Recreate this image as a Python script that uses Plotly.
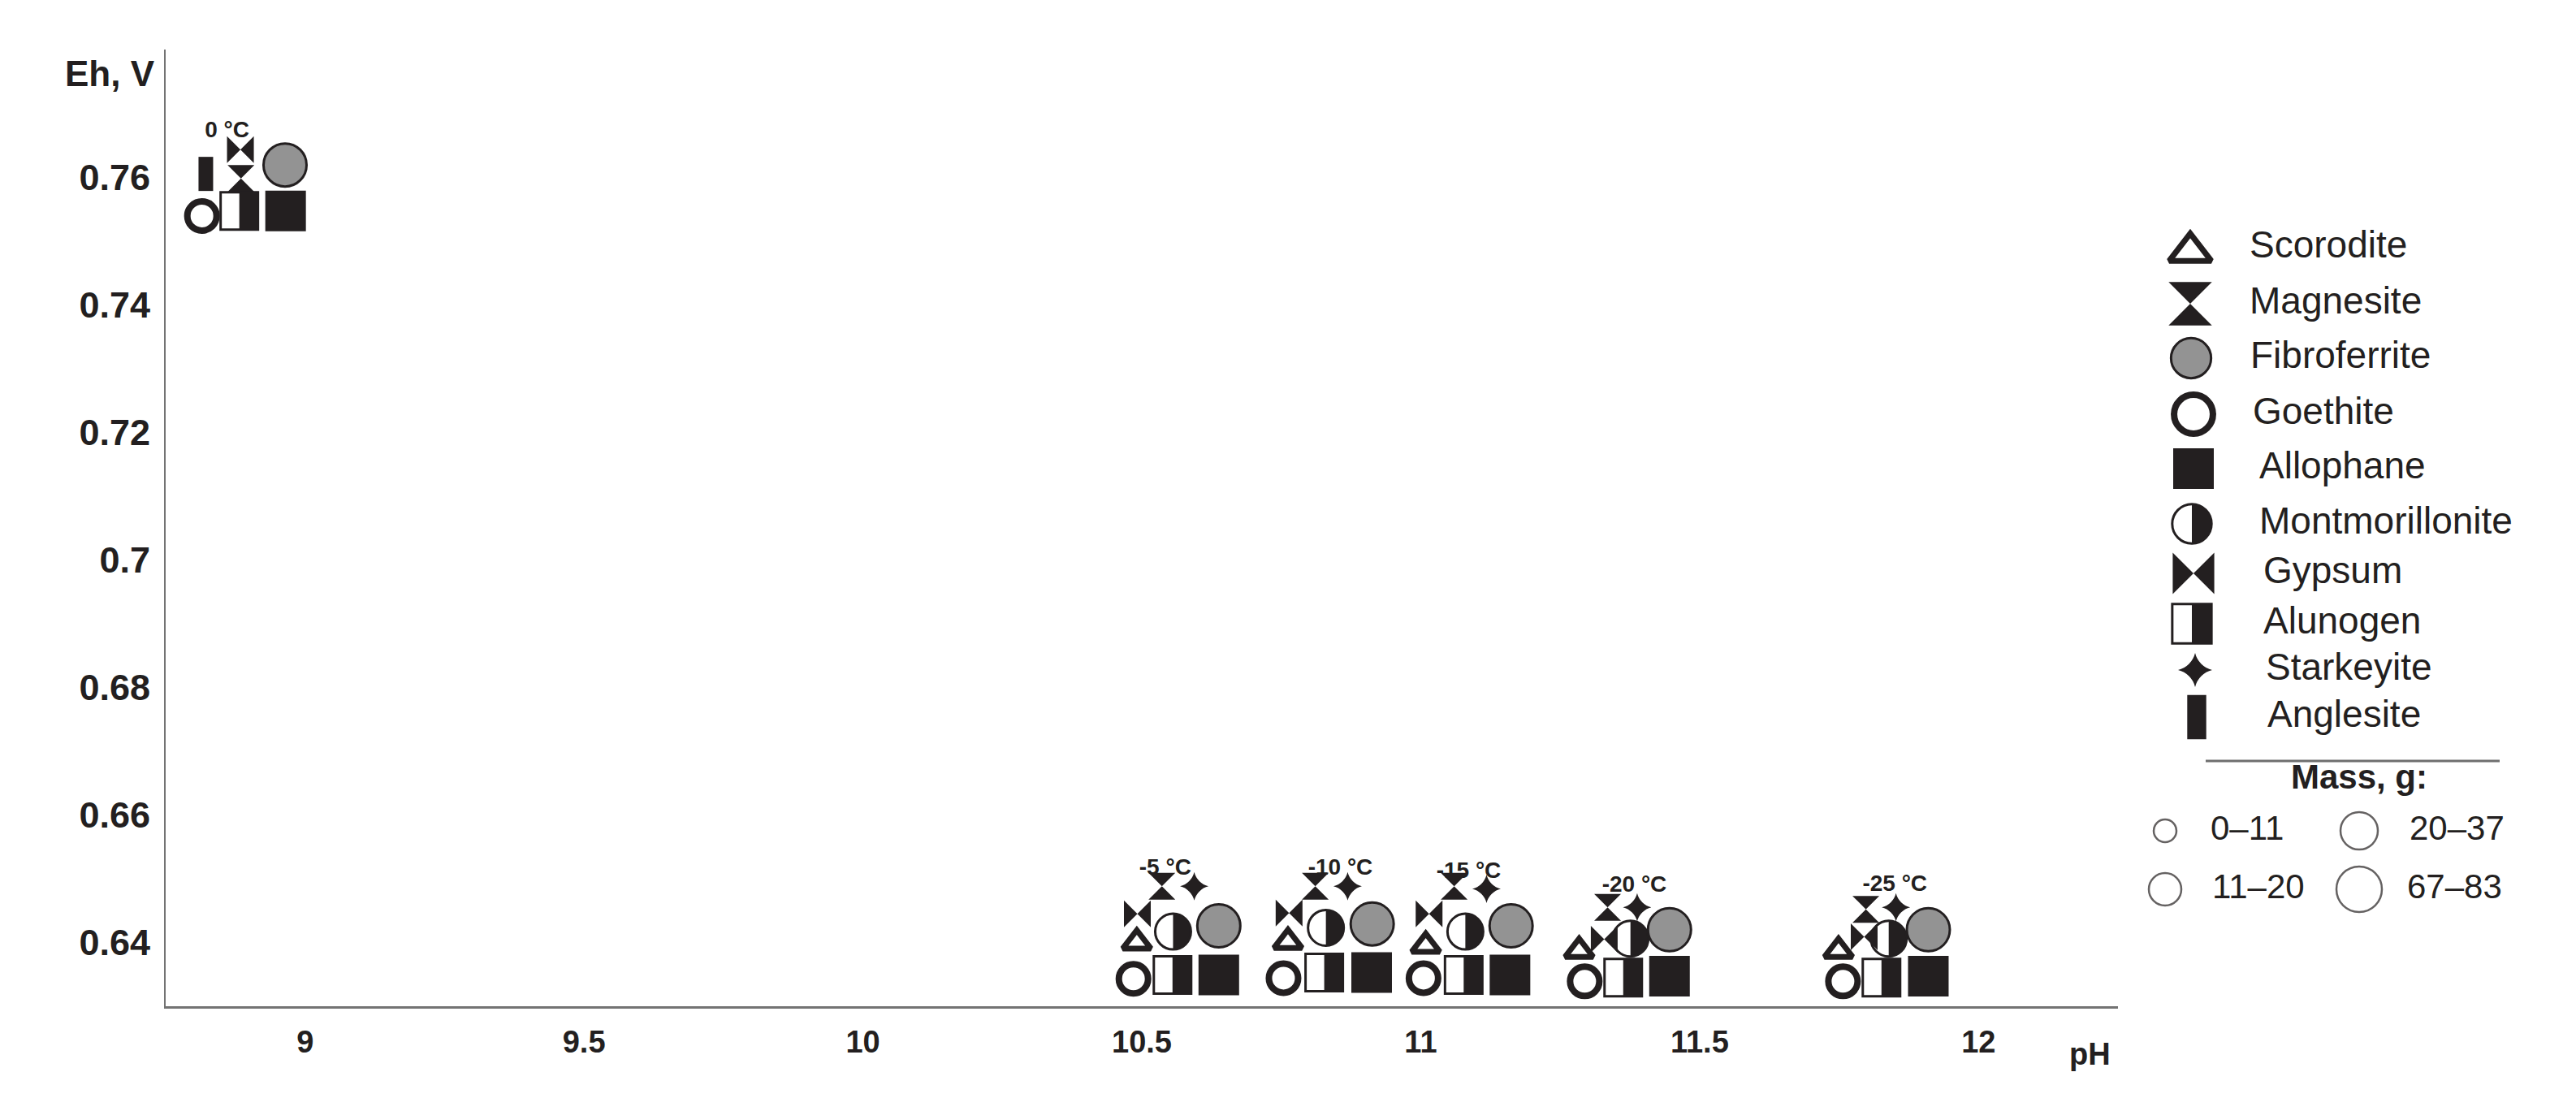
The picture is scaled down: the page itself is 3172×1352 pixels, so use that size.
import plotly.graph_objects as go

# ---------------- data ----------------
temps = ["0 °C", "-5 °C", "-10 °C", "-15 °C", "-20 °C", "-25 °C"]
temp_label_ph = [8.860, 10.542, 10.856, 11.086, 11.383, 11.850]
temp_label_eh = [0.7671, 0.6515, 0.6515, 0.6510, 0.6489, 0.6490]

scorodite_ph = [None, 10.491, 10.762, 11.009, 11.284, 11.749]
scorodite_eh = [None, 0.6400, 0.6401, 0.6395, 0.6387, 0.6387]
magnesite_ph = [8.885, 10.536, 10.811, 11.060, 11.335, 11.798]
magnesite_eh = [0.7598, 0.6488, 0.6488, 0.6488, 0.6455, 0.6452]
fibroferrite_ph = [8.964, 10.638, 10.913, 11.162, 11.446, 11.910]
fibroferrite_eh = [0.7619, 0.6426, 0.6429, 0.6426, 0.6420, 0.6420]
goethite_ph = [8.815, 10.485, 10.754, 11.005, 11.294, 11.757]
goethite_eh = [0.7539, 0.6343, 0.6344, 0.6344, 0.6339, 0.6339]
allophane_ph = [8.965, 10.638, 10.912, 11.160, 11.446, 11.910]
allophane_eh = [0.7547, 0.6349, 0.6353, 0.6349, 0.6347, 0.6347]
montmorillonite_ph = [None, 10.556, 10.830, 11.080, 11.376, 11.839]
montmorillonite_eh = [None, 0.6417, 0.6423, 0.6417, 0.6406, 0.6406]
gypsum_ph = [8.884, 10.492, 10.764, 11.015, 11.329, 11.795]
gypsum_eh = [0.7643, 0.6445, 0.6446, 0.6445, 0.6405, 0.6409]
alunogen_ph = [8.882, 10.555, 10.827, 11.077, 11.363, 11.826]
alunogen_eh = [0.7547, 0.6349, 0.6353, 0.6349, 0.6345, 0.6345]
starkeyite_ph = [None, 10.594, 10.869, 11.118, 11.388, 11.852]
starkeyite_eh = [None, 0.6488, 0.6488, 0.6484, 0.6455, 0.6455]
anglesite_ph = [8.822, None, None, None, None, None]
anglesite_eh = [0.7605, None, None, None, None, None]

minerals = ["Scorodite", "Magnesite", "Fibroferrite", "Goethite", "Allophane",
            "Montmorillonite", "Gypsum", "Alunogen", "Starkeyite", "Anglesite"]
mass_classes = ["0–11", "11–20", "20–37", "67–83"]

ph_ticks = [9, 9.5, 10, 10.5, 11, 11.5, 12]
ph_tick_labels = ["9", "9.5", "10", "10.5", "11", "11.5", "12"]
eh_ticks = [0.64, 0.66, 0.68, 0.70, 0.72, 0.74, 0.76]
eh_tick_labels = ["0.64", "0.66", "0.68", "0.7", "0.72", "0.74", "0.76"]

mineral_ph = {"Scorodite": scorodite_ph, "Magnesite": magnesite_ph, "Fibroferrite": fibroferrite_ph,
              "Goethite": goethite_ph, "Allophane": allophane_ph, "Montmorillonite": montmorillonite_ph,
              "Gypsum": gypsum_ph, "Alunogen": alunogen_ph, "Starkeyite": starkeyite_ph,
              "Anglesite": anglesite_ph}
mineral_eh = {"Scorodite": scorodite_eh, "Magnesite": magnesite_eh, "Fibroferrite": fibroferrite_eh,
              "Goethite": goethite_eh, "Allophane": allophane_eh, "Montmorillonite": montmorillonite_eh,
              "Gypsum": gypsum_eh, "Alunogen": alunogen_eh, "Starkeyite": starkeyite_eh,
              "Anglesite": anglesite_eh}

# ---------------- styles ----------------
BLACK = "#231f20"
GRAY_FILL = "#939393"
AXIS_GRAY = "#737373"
FONT = "Liberation Sans, Arial, sans-serif"


def L(symbol, size, color=BLACK, lc=BLACK, lw=0, angle=0, standoff=0, geom_lw=False):
    return dict(symbol=symbol, size=size, color=color, lc=lc, lw=lw, angle=angle,
                standoff=standoff, geom_lw=geom_lw)


# each mark is built from one or more plotly marker layers
styles = {
    "Scorodite": dict(layers=[L("triangle-up", 30, color="white", lw=7)], leg=1.5),
    "Magnesite": dict(layers=[L("hourglass", 33)], leg=1.62),
    "Fibroferrite": dict(layers=[L("circle", 53, color=GRAY_FILL, lw=3)], leg=0.93),
    "Goethite": dict(layers=[L("circle-open", 36, lw=8)], leg=1.33),
    "Allophane": dict(layers=[L("square", 50)], leg=1.0),
    "Montmorillonite": dict(layers=[
        L("circle", 44),
        L("line-ew", 33, color="white", lc="white", lw=22, angle=90, standoff=11, geom_lw=True),
        L("circle-open", 44, lw=3)], leg=1.1),
    "Gypsum": dict(layers=[L("bowtie", 33)], leg=1.55),
    "Alunogen": dict(layers=[
        L("square", 46, color="white", lw=3),
        L("line-ew", 33, lc=BLACK, lw=23, angle=-90, standoff=11.5, geom_lw=True)], leg=1.05),
    "Starkeyite": dict(layers=[L("star-diamond", 25)], leg=1.2),
    "Anglesite": dict(layers=[L("line-ns", 30, lw=18, geom_lw=True)], leg=1.3),
}
draw_order = ["Montmorillonite", "Gypsum", "Magnesite", "Starkeyite", "Scorodite",
              "Fibroferrite", "Goethite", "Alunogen", "Allophane", "Anglesite"]


def add_mark(fig, name, xs, ys, legend=False):
    st = styles[name]
    k = st["leg"] if legend else 1.0
    axes = dict(xaxis="x2", yaxis="y2") if legend else dict(xaxis="x", yaxis="y")
    for ly in st["layers"]:
        lw = ly["lw"] * k if ly["geom_lw"] else ly["lw"]
        fig.add_trace(go.Scatter(
            x=xs, y=ys, mode="markers", cliponaxis=False, hoverinfo="skip", name=name,
            marker=dict(symbol=ly["symbol"], color=ly["color"], size=ly["size"] * k,
                        angle=ly["angle"], standoff=ly["standoff"] * k,
                        line=dict(color=ly["lc"], width=lw)),
            **axes))


fig = go.Figure()

# data clusters
for name in draw_order:
    add_mark(fig, name, mineral_ph[name], mineral_eh[name])

# temperature labels
fig.add_trace(go.Scatter(x=temp_label_ph, y=temp_label_eh, mode="text", text=temps,
                         textposition="middle center", hoverinfo="skip", cliponaxis=False,
                         textfont=dict(family=FONT, size=28, color=BLACK, weight="bold")))

# ---------------- custom legend (pixel-like coordinates on a hidden axis) ----------------
leg_row_y = [297, 366, 433, 502, 569, 637, 698, 760, 817, 875]
leg_sym_x = [2689, 2689, 2690, 2693, 2693, 2691, 2693, 2691, 2695, 2697]
leg_text_x = [2762, 2762, 2763, 2766, 2774, 2774, 2779, 2779, 2782, 2784]
leg_sym_dy = {"Scorodite": 5}
for i, name in enumerate(minerals):
    add_mark(fig, name, [leg_sym_x[i]], [leg_row_y[i] + leg_sym_dy.get(name, 0)], legend=True)
fig.add_trace(go.Scatter(x=leg_text_x, y=leg_row_y, mode="text", text=minerals, textposition="middle right",
                         xaxis="x2", yaxis="y2", cliponaxis=False, hoverinfo="skip",
                         textfont=dict(family=FONT, size=46, color=BLACK)))

# mass legend
fig.add_trace(go.Scatter(x=[2897], y=[952], mode="text", text=["Mass, g:"], textposition="middle center",
                         xaxis="x2", yaxis="y2", cliponaxis=False, hoverinfo="skip",
                         textfont=dict(family=FONT, size=42, color=BLACK, weight="bold")))
fig.add_trace(go.Scatter(x=[2658, 2658, 2897, 2897], y=[1015, 1087, 1015, 1087], mode="markers",
                         xaxis="x2", yaxis="y2", cliponaxis=False, hoverinfo="skip",
                         marker=dict(symbol="circle-open", color=BLACK, size=[28, 40, 46, 56],
                                     line=dict(width=2.5, color=BLACK))))
fig.add_trace(go.Scatter(x=[2714, 2716, 2959, 2956], y=[1015, 1087, 1015, 1087], mode="text",
                         text=mass_classes, textposition="middle right",
                         xaxis="x2", yaxis="y2", cliponaxis=False, hoverinfo="skip",
                         textfont=dict(family=FONT, size=42, color=BLACK)))

fig.add_shape(type="line", xref="x2", yref="y2", x0=2708, x1=3070, y0=929, y1=929,
              line=dict(color="#6f6f6f", width=3))

W, H = 3172, 1352
ML, MR, MT, MB = 196, 0, 53, 121
plot_w = W - ML - MR

fig.update_layout(
    width=W, height=H,
    margin=dict(l=ML, r=MR, t=MT, b=MB, pad=0),
    plot_bgcolor="white", paper_bgcolor="white",
    showlegend=False,
    xaxis=dict(domain=[0, 2404 / plot_w], range=[8.75, 12.25], showline=True, linecolor=AXIS_GRAY,
               linewidth=3, showgrid=False, zeroline=False, ticks="",
               tickvals=ph_ticks, ticktext=ph_tick_labels, ticklabelstandoff=8,
               tickfont=dict(family=FONT, size=38, color=BLACK, weight="bold")),
    yaxis=dict(range=[0.63, 0.78], showline=True, linecolor=AXIS_GRAY, linewidth=2,
               showgrid=False, zeroline=False, ticks="",
               tickvals=eh_ticks, ticktext=eh_tick_labels, ticklabelstandoff=8,
               tickfont=dict(family=FONT, size=45, color=BLACK, weight="bold")),
    xaxis2=dict(domain=[(2609 - ML) / plot_w, 1.0], range=[2609, 3172], visible=False, anchor="y2"),
    yaxis2=dict(domain=[0, 1], range=[1231, 53], visible=False, anchor="x2"),
    annotations=[
        dict(text="pH", xref="x", yref="paper", x=12.2, y=-0.05, showarrow=False,
             xanchor="center", yanchor="middle",
             font=dict(family=FONT, size=38, color=BLACK, weight="bold")),
        dict(text="Eh, V", xref="paper", yref="y", x=0, y=0.7763, showarrow=False,
             xanchor="right", yanchor="middle", xshift=-11,
             font=dict(family=FONT, size=44, color=BLACK, weight="bold")),
    ],
)

fig.write_html("out.html")
